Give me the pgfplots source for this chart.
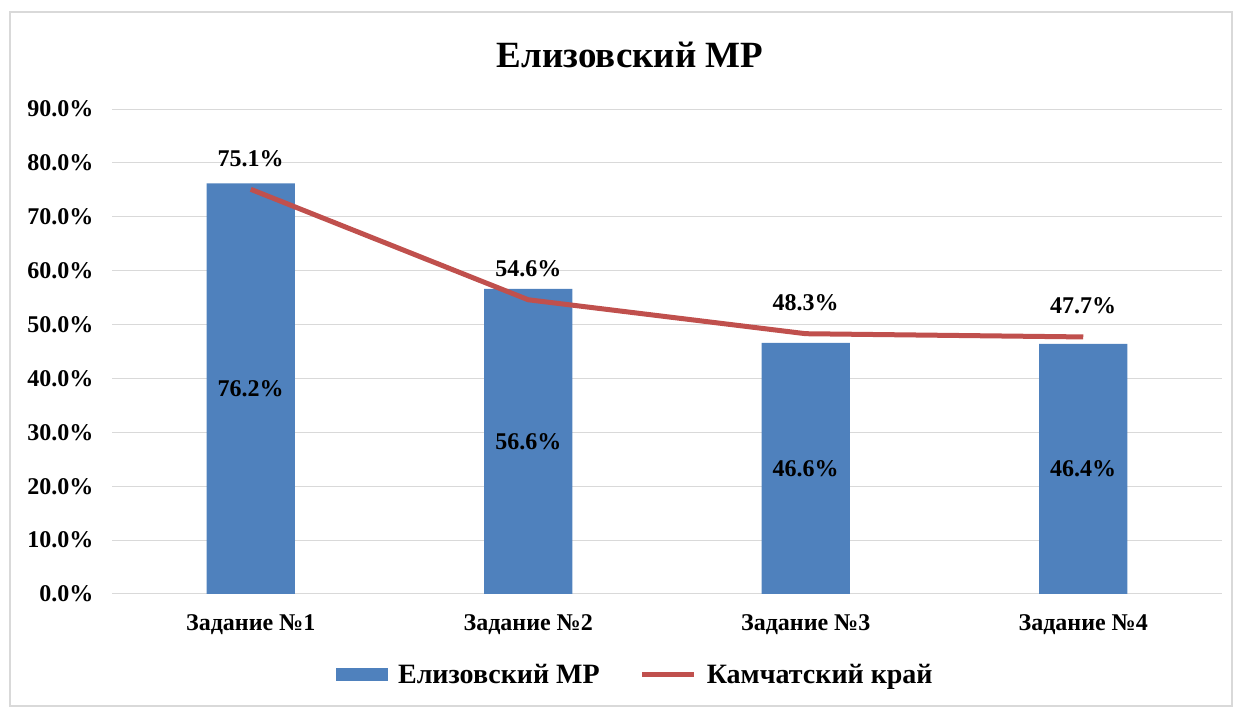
\documentclass[border=0pt]{standalone}
\usepackage{fontspec}
\setmainfont{Liberation Serif}
\usepackage{pgfplots}
\pgfplotsset{compat=1.18}
\definecolor{barblue}{HTML}{4F81BD}
\definecolor{linered}{HTML}{C0504D}
\definecolor{gridgray}{HTML}{D9D9D9}
\begin{document}
\begin{tikzpicture}[x=1pt,y=1pt]
\path (0,0) rectangle (1242,709);
\draw[gridgray,line width=1.2pt] (10,3) rectangle (1232,697);
\node[font=\bfseries\fontsize{37}{40}\selectfont] at (630,654) {Елизовский МР};
\begin{axis}[
  at={(112pt,115pt)}, anchor=south west,
  scale only axis, width=1110pt, height=485pt,
  xmin=-0.5, xmax=3.5, ymin=0, ymax=90,
  ytick={0,10,...,90},
  xtick={0,1,2,3},
  xticklabels={Задание №1,Задание №2,Задание №3,Задание №4},
  /pgf/number format/assume math mode=true,
  yticklabel={\pgfmathprintnumber[fixed,fixed zerofill,precision=1]{\tick}\%},
  tick label style={font=\bfseries\fontsize{24}{27}\selectfont},
  yticklabel style={xshift=-15pt},
  xticklabel style={yshift=-17pt},
  major tick length=0pt,
  ymajorgrids, grid style={gridgray,line width=1pt},
  axis line style={draw=none},
  axis x line*=bottom,
  x axis line style={draw=gridgray,line width=1pt},
  clip=false,
  legend columns=2,
  legend style={at={(0.4715,-0.167)}, anchor=center, draw=none,
    font=\bfseries\fontsize{28}{31}\selectfont,
    /tikz/every odd column/.append style={column sep=8pt},
    /tikz/every even column/.append style={column sep=38pt}},
]
\addplot[ybar, bar width=88pt, fill=barblue, draw=none,
  nodes near coords={\pgfmathprintnumber[fixed,fixed zerofill,precision=1]{\pgfplotspointmeta}\%},
  visualization depends on={rawy \as \rawy},
  every node near coord/.append style={anchor=center, font=\bfseries\fontsize{24}{27}\selectfont, black,
     yshift={-\rawy*2.6944pt}},
  legend image code/.code={\fill[barblue] (0pt,-6.5pt) rectangle (52pt,6.5pt);},
] coordinates {(0,76.2) (1,56.6) (2,46.6) (3,46.4)};
\addlegendentry{Елизовский МР}
\addplot[linered, line width=5pt, mark=none,
  nodes near coords={\pgfmathprintnumber[fixed,fixed zerofill,precision=1]{\pgfplotspointmeta}\%},
  every node near coord/.append style={anchor=center, font=\bfseries\fontsize{24}{27}\selectfont, black, yshift=31pt},
  legend image code/.code={\draw[linered,line width=5pt] (0pt,0pt) -- (52pt,0pt);},
] coordinates {(0,75.1) (1,54.6) (2,48.3) (3,47.7)};
\addlegendentry{Камчатский край}
\end{axis}
\end{tikzpicture}
\end{document}
